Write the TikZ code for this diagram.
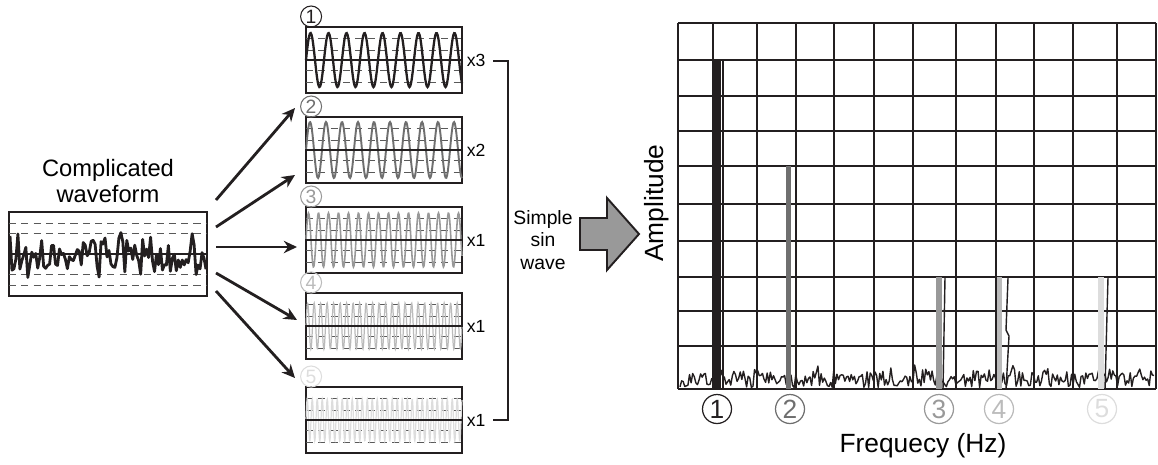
\documentclass[tikz,border=0pt]{standalone}
\usepackage{fontspec}
\setmainfont{Liberation Sans}
\usetikzlibrary{positioning,arrows.meta}

\definecolor{ink}{HTML}{231F20}
\definecolor{grA}{HTML}{6F6F6F}
\definecolor{grB}{HTML}{999999}
\definecolor{grC}{HTML}{BBBBBB}
\definecolor{grD}{HTML}{DDDDDD}

\begin{document}
\begin{tikzpicture}[x=0.02cm, y=-0.02cm, >={Stealth[length=7.5pt,width=7pt]},
  wavebox/.style={draw=ink, line width=1.1pt, minimum width=3.12cm, minimum height=1.32cm, inner sep=0pt},
  dashln/.style={black!65, line width=0.5pt, dash pattern=on 4pt off 3pt},
  gridln/.style={ink, line width=1.1pt},
  numlbl/.style={circle, draw, line width=0.6pt, inner sep=0pt, minimum size=0.42cm, font=\fontsize{11}{11}\selectfont},
  bignum/.style={circle, draw, line width=0.7pt, inner sep=0pt, minimum size=0.58cm, font=\fontsize{15}{15}\selectfont}]
\useasboundingbox (0,0) rectangle (1158,464);

\node[wavebox, minimum width=3.96cm, minimum height=1.68cm] (cw) at (108,254) {};
\node[above=1pt of cw, align=center, font=\fontsize{13.5}{15}\selectfont] (cwl) {Complicated\\waveform};
\foreach \d in {-31,-21,20,31}
  \draw[dashln] (9,{254+\d}) -- (207,{254+\d});
\pgfmathsetseed{5}
\draw[ink, line width=1.6pt, line join=round] plot[domain=10:206, samples=100] (\x, {254 + 19*rand + 12*rand*abs(rand)});
\draw[ink, line width=1.4pt] (cw.west) -- (cw.east);

\foreach \i/\y/\c/\p/\a/\w/\s/\m in {1/60/ink/18/27/1.3/200/3, 2/150/grA/16/28/1.1/220/2,
    3/240/grB/10/27/0.9/320/1, 4/326/grC/6.5/23/0.7/420/1, 5/420/grD/5/21/0.7/520/1} {
  \node[wavebox] (b\i) at (384,\y) {};
  \foreach \e in {-22,-10,10,22}
    \draw[dashln] (306,{\y+\e}) -- (462,{\y+\e});
  \draw[\c, line width=\w pt] plot[domain=306:462, samples=\s] (\x, {\y - \a*sin((\x-306)/\p*360)});
  \draw[ink, line width=1.4pt] (b\i.west) -- (b\i.east);
  \node[numlbl, draw=\c, text=\c, above right=1pt and -1pt of b\i.north west] (l\i) {\i};
  \node[right=2pt of b\i.east, inner sep=0pt, font=\fontsize{10}{12}\selectfont] (m\i) {x\m};
}

\foreach \i/\sy/\ex/\ey in {1/200/295/108, 2/227/295/175, 3/247/297/247, 4/273/297/320, 5/291/295/378} {
  \coordinate (s\i) at (216,\sy);
  \coordinate (e\i) at (\ex,\ey);
  \draw[->, ink, line width=1.6pt] (s\i) -- (e\i);
}

\coordinate (ta) at (493,61);
\coordinate (tb) at (493,420);
\draw[ink, line width=1.1pt] (ta) -- ++(15,0) |- (tb);
\node[align=center, font=\fontsize{11}{13}\selectfont] (ssw) at (543,240) {Simple\\sin\\wave};
\draw[ink, line width=1.1pt, fill=grB] (580,218) -- (607,218) -- (607,198) -- (639,234)
  -- (607,270) -- (607,250) -- (580,250) -- cycle;

\foreach \gx in {678,713,757,796,834,874,913,956,996,1034,1073,1117,1156}
  \draw[gridln] (\gx,23) -- (\gx,389);
\foreach \gy in {23,60,96,131,166,204,241,277,311,346,389}
  \draw[gridln] (678,\gy) -- (1156,\gy);
\pgfmathsetseed{11}
\draw[ink, line width=0.8pt, line join=round] plot[domain=680:1154, samples=300] (\x, {388 - 16*rnd - 12*rnd*rnd*rnd});
\fill[ink] (713,60) rectangle (721,389);
\fill[grA] (786,166) rectangle (791,389);
\fill[grB] (936,277) rectangle (942,389);
\fill[grC] (997,277) rectangle (1002,389);
\fill[grD] (1098,277) rectangle (1104,389);
\draw[ink, line width=0.8pt] (723,60) -- (723,389);
\draw[ink, line width=0.8pt] (945,277) -- (943,389);
\draw[ink, line width=0.8pt] (1008,278) -- (1006,330) -- (1009,336) -- (1006,389);
\draw[ink, line width=0.8pt] (1108,277) -- (1105,389);

\node[rotate=90, font=\fontsize{15}{18}\selectfont] (amp) at (657,203) {Amplitude};
\node[font=\fontsize{15}{18}\selectfont] (frq) at (923,446) {Frequecy (Hz)};
\foreach \i/\gx/\c in {1/717/ink, 2/790/grA, 3/939/grB, 4/999/grC, 5/1102/grD}
  \node[bignum, draw=\c, text=\c] (n\i) at (\gx,409) {\i};
\end{tikzpicture}
\end{document}
